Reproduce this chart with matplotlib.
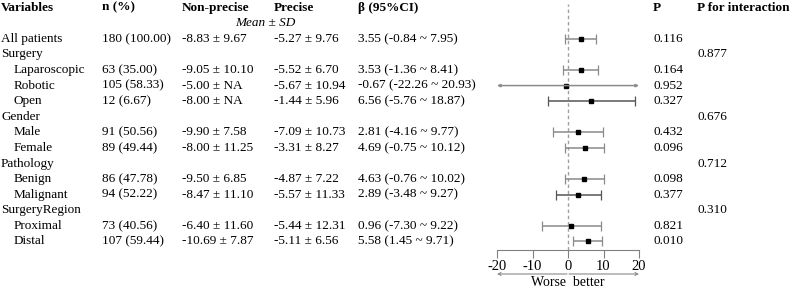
import numpy as np
import matplotlib
matplotlib.use("Agg")
import matplotlib.pyplot as plt
from matplotlib.transforms import blended_transform_factory

plt.rcParams["font.family"] = ["Liberation Serif", "DejaVu Serif"]
plt.rcParams["axes.unicode_minus"] = False

# rows of the table, group headers have no estimate
variables = ["All patients", "Surgery", "Laparoscopic", "Robotic", "Open",
             "Gender", "Male", "Female", "Pathology", "Benign", "Malignant",
             "SurgeryRegion", "Proximal", "Distal"]
is_sub = [False, False, True, True, True, False, True, True, False, True, True,
          False, True, True]
n_pct = ["180 (100.00)", "", "63 (35.00)", "105 (58.33)", "12 (6.67)", "",
         "91 (50.56)", "89 (49.44)", "", "86 (47.78)", "94 (52.22)", "",
         "73 (40.56)", "107 (59.44)"]
non_precise = ["-8.83 ± 9.67", "", "-9.05 ± 10.10", "-5.00 ± NA", "-8.00 ± NA", "",
               "-9.90 ± 7.58", "-8.00 ± 11.25", "", "-9.50 ± 6.85", "-8.47 ± 11.10", "",
               "-6.40 ± 11.60", "-10.69 ± 7.87"]
precise = ["-5.27 ± 9.76", "", "-5.52 ± 6.70", "-5.67 ± 10.94", "-1.44 ± 5.96", "",
           "-7.09 ± 10.73", "-3.31 ± 8.27", "", "-4.87 ± 7.22", "-5.57 ± 11.33", "",
           "-5.44 ± 12.31", "-5.11 ± 6.56"]
beta = [3.55, None, 3.53, -0.67, 6.56, None, 2.81, 4.69, None, 4.63, 2.89, None, 0.96, 5.58]
ci_low = [-0.84, None, -1.36, -22.26, -5.76, None, -4.16, -0.75, None, -0.76, -3.48, None, -7.30, 1.45]
ci_high = [7.95, None, 8.41, 20.93, 18.87, None, 9.77, 10.12, None, 10.02, 9.27, None, 9.22, 9.71]
p_values = ["0.116", "", "0.164", "0.952", "0.327", "", "0.432", "0.096", "",
            "0.098", "0.377", "", "0.821", "0.010"]
p_interaction = ["", "0.877", "", "", "", "0.676", "", "", "0.712", "", "", "0.310", "", ""]

headers = ["Variables", "n (%)", "Non-precise", "Precise", "β (95%CI)", "P", "P for interaction"]
xticks = [-20, -10, 0, 10, 20]

W, H = 794, 288
fig = plt.figure(figsize=(W / 100, H / 100), dpi=100)

# forest panel, rows are y data
ax_top, ax_bot = 4, 250
y0, step = 38.8, 15.59
ax = fig.add_axes([497 / W, 1 - ax_bot / H, 142 / W, (ax_bot - ax_top) / H])
ax.set_xlim(-20, 20)
ax.set_ylim((ax_bot - y0) / step, (ax_top - y0) / step)

for sp in ["top", "left", "right"]:
    ax.spines[sp].set_visible(False)
ax.spines["bottom"].set_color("#808080")
ax.set_yticks([])
ax.set_xticks(xticks)
ax.set_xticklabels([str(t) for t in xticks], fontsize=10.5)
ax.tick_params(axis="x", length=6, color="#808080", pad=1.5)
ax.axvline(0, color="#a0a0a0", ls=(0, (2.5, 2)), lw=1, zorder=0)

for i, b in enumerate(beta):
    if b is None:
        continue
    lo, hi = ci_low[i], ci_high[i]
    col = "#555555" if variables[i] in ("Open", "Malignant") else "#8a8a8a"
    if lo < -20 or hi > 20:
        ax.annotate("", xy=(max(lo, -20), i), xytext=(b, i),
                    arrowprops=dict(arrowstyle="-|>", color=col, lw=1.1,
                                    mutation_scale=4, shrinkA=0, shrinkB=0))
        ax.annotate("", xy=(min(hi, 20), i), xytext=(b, i),
                    arrowprops=dict(arrowstyle="-|>", color=col, lw=1.1,
                                    mutation_scale=4, shrinkA=0, shrinkB=0))
    else:
        ax.errorbar(b, i, xerr=[[b - lo], [hi - b]], fmt="none", ecolor=col,
                    elinewidth=1.1, capsize=3.5, capthick=0.9)
    ax.plot(b, i, "s", color="black", ms=3)

# arrows and label under the axis
xt = ax.get_xaxis_transform()
arr_y = -24 / (ax_bot - ax_top)
for end in (-20, 20):
    ax.annotate("", xy=(end, arr_y), xytext=(0.3 if end > 0 else -0.3, arr_y),
                xycoords=xt, textcoords=xt, annotation_clip=False,
                arrowprops=dict(arrowstyle="->", color="#8a8a8a", lw=0.8,
                                mutation_scale=5, shrinkA=0, shrinkB=0))
ax.text(0, -33 / (ax_bot - ax_top), "Worse  better", transform=xt, ha="center",
        va="center", fontsize=10)

# table text
tr = blended_transform_factory(fig.transFigure, ax.transData)
col_x = [1, 102, 182, 274, 358, 653, 697]
fs = 9.5

def put(x, row, s, **kw):
    ax.text(x / W, row, s, transform=tr, ha="left", va="center", fontsize=fs,
            clip_on=False, **kw)

for x, h in zip(col_x, headers):
    put(x, -2, h, fontweight="bold")
ax.text(265 / W, -1, "Mean ± SD", transform=tr, ha="center", va="center",
        fontsize=fs, style="italic", clip_on=False)

for i, name in enumerate(variables):
    put(14 if is_sub[i] else 1, i, name)
    put(col_x[1], i, n_pct[i])
    put(col_x[2], i, non_precise[i])
    put(col_x[3], i, precise[i])
    if beta[i] is not None:
        put(col_x[4], i, f"{beta[i]:.2f} ({ci_low[i]:.2f} ~ {ci_high[i]:.2f})")
    put(col_x[5], i, p_values[i])
    put(col_x[6], i, p_interaction[i])

fig.savefig("out.png", dpi=100)
